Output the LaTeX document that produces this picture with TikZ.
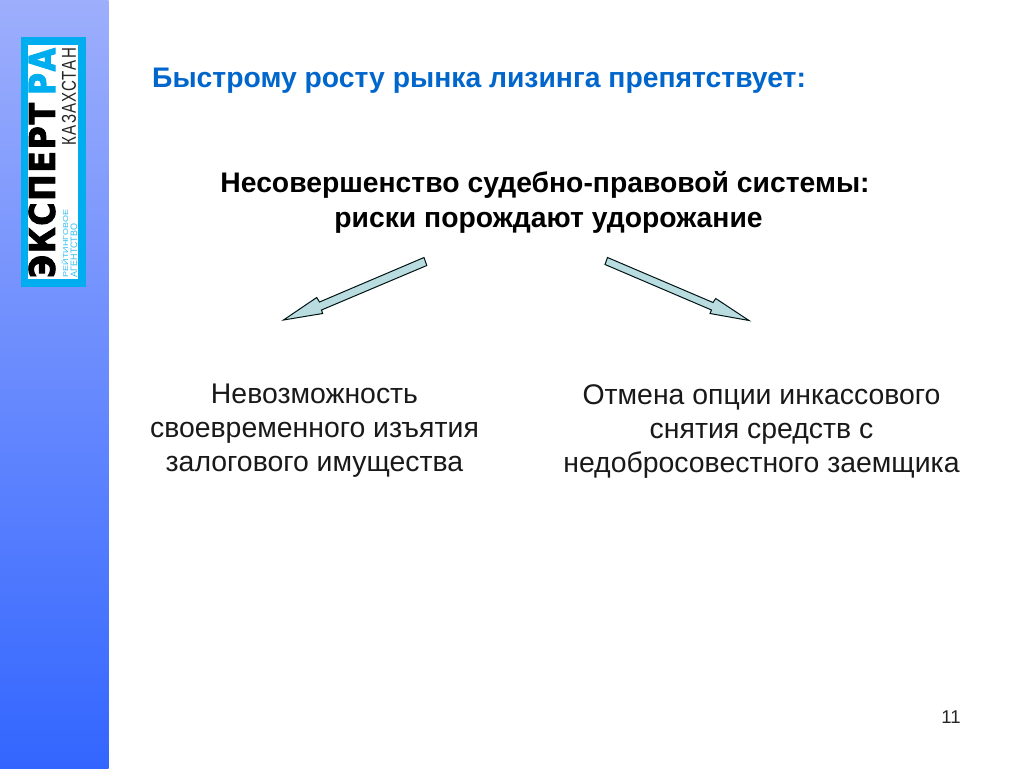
\documentclass[tikz,border=0pt]{standalone}
\usepackage{fontspec}
\setmainfont{Liberation Sans}
\newfontfamily\logofont[BoldFont={DejaVu Sans Bold},BoldFeatures={FakeBold=3,LetterSpace=6}]{DejaVu Sans}
\usepackage{graphicx}
\definecolor{logocyan}{HTML}{00AEEF}
\definecolor{sidetop}{HTML}{9DAEFC}
\definecolor{sidebot}{HTML}{3366FF}
\definecolor{titleblue}{HTML}{0066CC}
\definecolor{arrowfill}{HTML}{B8DCE0}
\tikzset{
  blockarrow/.style={draw=black!85!teal, fill=arrowfill, line width=1pt, line join=miter},
  bodytext/.style={align=center, inner sep=0pt, font=\fontsize{28.4}{34}\selectfont, text=black!90},
  headtext/.style={align=center, inner sep=0pt, font=\fontsize{28.3}{35.5}\selectfont\bfseries, text=black},
  logotext/.style={inner sep=0pt, rotate=90, anchor=center}
}
\begin{document}
\begin{tikzpicture}[x=1pt,y=-1pt]
\useasboundingbox (0,0) rectangle (1024,768);
\fill[white] (0,0) rectangle (1024,768);
\shade[top color=sidetop,bottom color=sidebot,shading angle=0] (0,0) rectangle (108.5,768);
% logo
\fill[logocyan] (21,37) rectangle (86,287);
\fill[white] (28,45) rectangle (77.5,279);
\node[logotext] (logomain) at (42,190.5) {\resizebox{175pt}{26pt}{\logofont\bfseries ЭКСПЕРТ}};
\node[logotext] (logora) at (42,71.5) {\resizebox{47pt}{26pt}{\logofont\bfseries\color{logocyan} РА}};
\node[logotext] (logokz) at (69,96.5) {\resizebox{97pt}{14pt}{\color{black!85}\addfontfeatures{LetterSpace=8}КАЗАХСТАН}};
\node[logotext] (logoa) at (65,243.5) {\resizebox{67pt}{6.5pt}{\color{logocyan!80}РЕЙТИНГОВОЕ}};
\node[logotext] (logob) at (74,250.5) {\resizebox{53pt}{6.5pt}{\color{logocyan!80}АГЕНТСТВО}};
% title
\node[anchor=west,inner sep=0pt,text=titleblue,font=\fontsize{28.3}{30}\selectfont\bfseries] (title) at (152,80.5) {Быстрому росту рынка лизинга препятствует:};
\node[headtext] (head) at (545,202.5) {Несовершенство судебно-правовой системы:\\\hspace*{7pt}риски порождают удорожание};
% arrows
\draw[blockarrow] (424,257.5) -- (426.8,265.5) -- (321.5,310) -- (322.7,313.5) -- (283.5,320) -- (316.7,297.5) -- (319.5,302) -- cycle;
\draw[blockarrow] (607.5,257.5) -- (605,264.5) -- (711.5,310) -- (710,313.5) -- (749,320.5) -- (715.7,298.5) -- (713,302.5) -- cycle;
% texts
\node[bodytext] (left) at (314.5,431) {Невозможность\\своевременного изъятия\\залогового имущества};
\node[bodytext] (right) at (761.5,431.5) {Отмена опции инкассового\\снятия средств с\\недобросовестного заемщика};
\node[inner sep=0pt,font=\fontsize{18.5}{22}\selectfont,text=black!85] (page) at (951,717) {11};
\end{tikzpicture}
\end{document}
